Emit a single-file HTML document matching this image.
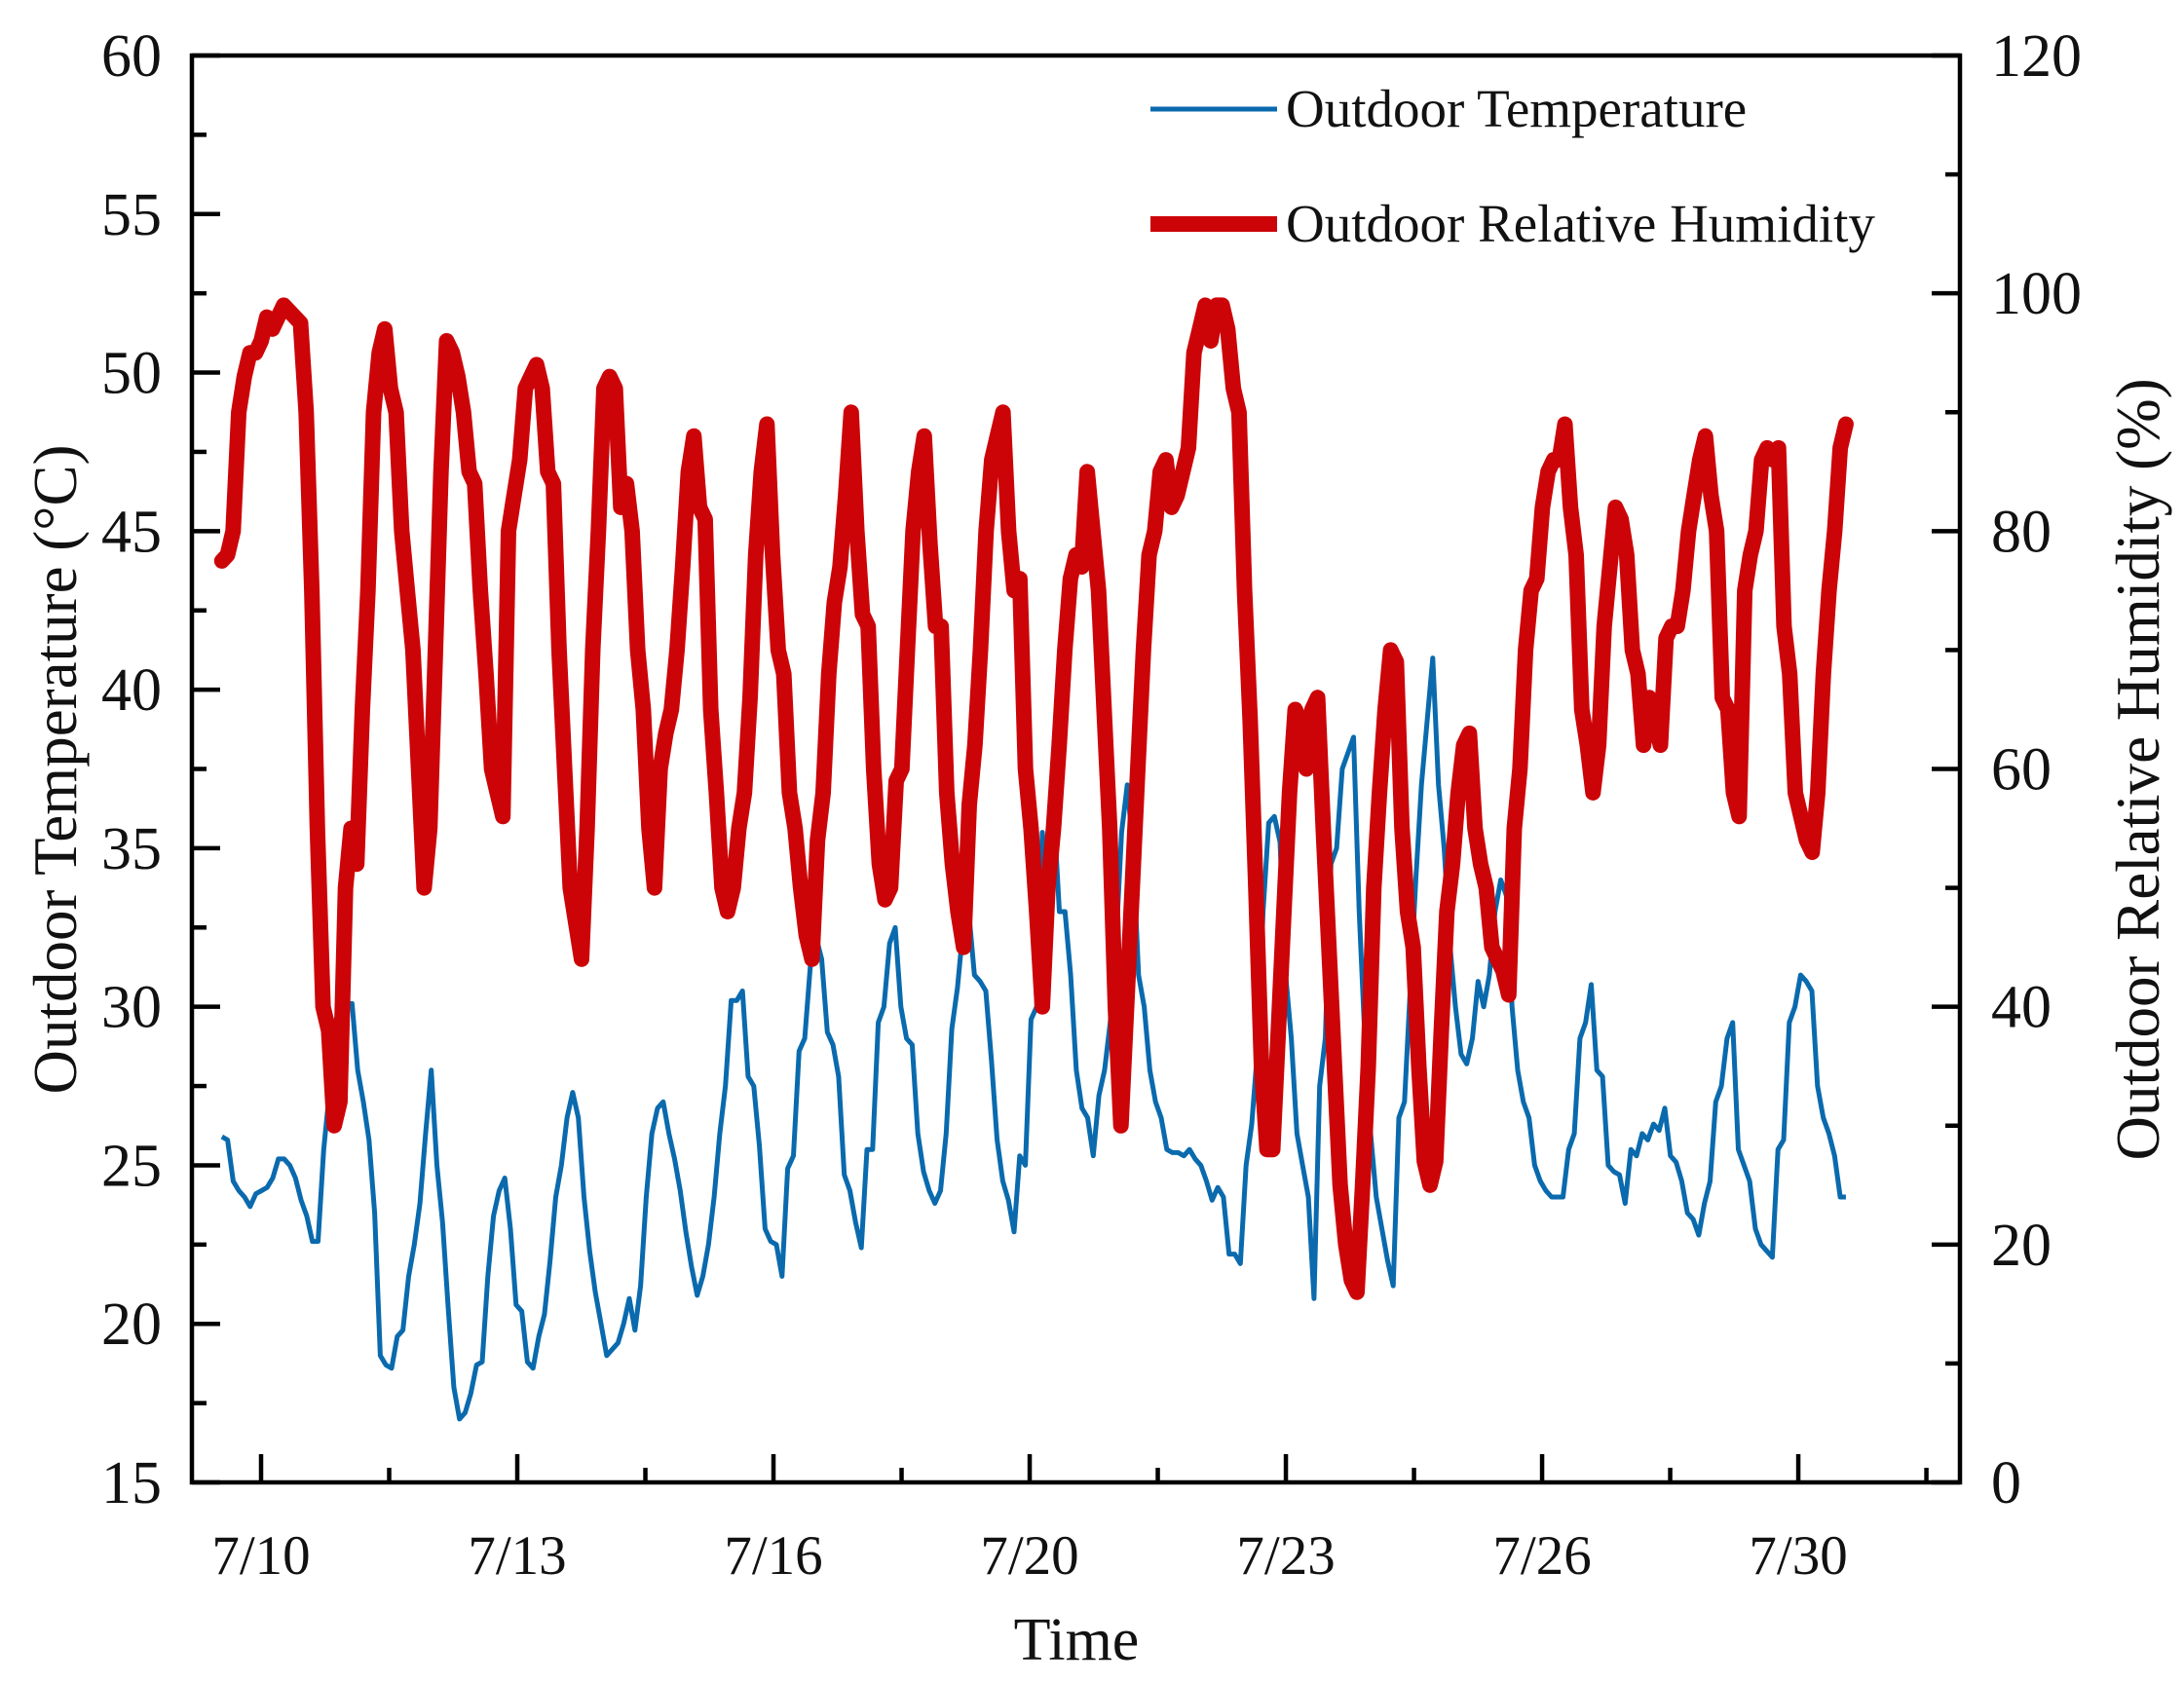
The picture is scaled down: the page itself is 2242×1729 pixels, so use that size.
<!DOCTYPE html>
<html><head><meta charset="utf-8">
<style>
html,body{margin:0;padding:0;background:#fff;}
svg{display:block;}
text{font-family:"Liberation Serif",serif;fill:#111;}
</style></head>
<body>
<svg id="chart" width="2242" height="1729" viewBox="0 0 2242 1729" xmlns="http://www.w3.org/2000/svg">
<g id="axes"></g>
<g id="series"></g>
<g id="legend"></g>
</svg>
<script>
// ---- data ----
const xTickLabels = ["7/10","7/13","7/16","7/20","7/23","7/26","7/30"];
const xTickDays = [0,3,6,9,12,15,18];
const leftTicks = [15,20,25,30,35,40,45,50,55,60];
const rightTicks = [0,20,40,60,80,100,120];
const tStartDay = -0.459;
const tEndDay = 18.557;
const temperature = [25.9,25.8,24.5,24.2,24.0,23.7,24.1,24.2,24.3,24.6,25.2,25.2,25.0,24.6,23.9,23.4,22.6,22.6,25.5,27.3,29.5,30.0,30.1,30.1,28.0,27.0,25.8,23.5,19.0,18.7,18.6,19.6,19.8,21.5,22.5,23.8,26.0,28.0,25.0,23.2,20.5,18.0,17.0,17.2,17.8,18.7,18.8,21.5,23.4,24.2,24.6,23.0,20.6,20.4,18.8,18.6,19.6,20.3,22.0,24.0,25.0,26.5,27.3,26.5,24.0,22.3,21.0,20.0,19.0,19.2,19.4,20.0,20.8,19.8,21.2,24.0,26.0,26.8,27.0,26.0,25.2,24.2,22.9,21.8,20.9,21.5,22.5,24.0,26.0,27.5,30.2,
30.2,30.5,27.8,27.5,25.6,23.0,22.6,22.5,21.5,24.9,25.3,28.6,29.0,31.3,32.2,31.5,29.2,28.8,27.8,24.7,24.2,23.2,22.4,25.5,25.5,29.5,30.0,32.0,32.5,30.0,29.0,28.8,26.0,24.8,24.2,23.8,24.2,26.0,29.3,30.6,32.5,33.0,31.0,30.8,30.5,28.3,25.8,24.5,23.9,22.9,25.3,25.0,29.6,30.0,35.5,33.5,36.2,33.0,33.0,31.0,28.0,26.8,26.5,25.3,27.2,28.0,29.5,32.0,35.5,37.0,35.0,31.0,30.0,28.0,27.0,26.5,25.5,25.4,25.4,25.3,25.5,25.2,25.0,24.5,23.9,24.3,24.0,22.2,22.2,21.9,25.0,26.3,28.6,33.0,35.8,36.0,35.2,31.0,29.0,26.0,25.0,24.0,20.8,27.5,29.0,34.5,35.0,37.5,38.0,38.5,33.0,29.0,26.0,24.0,23.0,22.0,21.2,26.5,27.0,30.5,34.0,37.0,39.0,41.0,37.0,35.0,32.0,30.0,28.5,28.2,29.0,30.8,30.0,31.0,33.0,34.0,33.5,30.0,28.0,27.0,26.5,25.0,24.5,24.2,24.0,24.0,24.0,25.5,26.0,29.0,29.5,30.7,28.0,27.8,25.0,24.8,24.7,23.8,25.5,25.3,26.0,25.8,26.3,26.1,26.8,25.3,25.1,24.5,23.5,23.3,22.8,23.8,24.5,27.0,27.5,29.0,29.5,25.5,25.0,24.5,23.0,22.5,22.3,22.1,25.5,25.8,29.5,30.0,31.0,30.8,30.5,27.5,26.5,26.0,25.3,24.0,24.0];
const humidity = [77.5,78,80,90,93,95,95,96,98,97,98,99,98.5,98,97.5,90,75,55,40,38,30,32,50,55,52,65,75,90,95,97,92,90,80,75,70,60,50,55,70,85,96,95,93,90,85,84,75,68,60,58,56,80,83,86,92,93,94,92,85,84,70,60,50,47,44,55,70,80,92,93,92,82,84,80,70,65,55,50,60,63,65,70,77,85,88,82,81,65,58,50,48,50,55,58,66,78,85,89,78,70,68,58,55,50,46,44,54,58,68,74,77,83,90,80,73,72,60,52,49,50,59,60,70,80,85,88,79,72,72,58,52,48,45,57,62,70,80,86,88,90,80,75,76,60,55,48,40,50,55,62,70,76,78,77,85,80,75,65,55,40,30,40,50,60,70,78,80,85,86,82,83,85,87,95,97,99,96,99,99,97,92,90,75,64,50,35,28,28,38,48,58,65,64,60,65,66,55,45,35,25,20,17,16,25,35,50,58,65,70,69,55,48,45,35,27,25,27,38,48,52,58,62,63,55,52,50,45,44,43,41,55,60,70,75,76,82,85,86,86,89,82,78,65,62,58,62,72,77,82,81,78,70,68,62,66,64,62,71,72,72,75,80,83,86,88,83,80,66,65,58,56,75,78,80,86,87,86,87,72,68,58,56,54,53,58,68,75,80,87,89];

// ---- layout ----
const L=197,R=2012,T=57,B=1522;
const X0=268, DAY=87.67;
const xS=d=>X0+d*DAY;
const yT=v=>B-(v-15)/45*(B-T);
const yH=v=>B-v/120*(B-T);
const NS="http://www.w3.org/2000/svg";
function mk(tag,attrs,parent,txt){const e=document.createElementNS(NS,tag);for(const k in attrs)e.setAttribute(k,attrs[k]);if(txt!==undefined)e.textContent=txt;parent.appendChild(e);return e;}
const axes=document.getElementById('axes'),series=document.getElementById('series'),legend=document.getElementById('legend');

function path(arr,yf){const n=arr.length;const st=(tEndDay-tStartDay)/(n-1);return arr.map((v,i)=>(i?'L':'M')+xS(tStartDay+i*st).toFixed(1)+' '+yf(v).toFixed(1)).join(' ');}
let p=mk('path',{d:path(temperature,yT),fill:'none',stroke:'#0a6aad','stroke-width':5,'stroke-linejoin':'round'},series);


p=mk('path',{d:path(humidity,yH),fill:'none',stroke:'#cc0408','stroke-width':16,'stroke-linejoin':'round','stroke-linecap':'round'},series);



let fr=mk('rect',{x:L,y:T,width:R-L,height:B-T,fill:'none',stroke:'#000','stroke-width':4.5},axes);



leftTicks.forEach(v=>{const y=yT(v);
 mk('line',{x1:L,x2:L+29,y1:y,y2:y,stroke:'#000','stroke-width':4.5},axes);
 if(v<60) mk('line',{x1:L,x2:L+15,y1:yT(v+2.5),y2:yT(v+2.5),stroke:'#000','stroke-width':4.5},axes);
 const t=mk('text',{x:166,y:y+21,'text-anchor':'end','font-size':62},axes,String(v));
 
 
});
rightTicks.forEach(v=>{const y=yH(v);
 mk('line',{x1:R,x2:R-29,y1:y,y2:y,stroke:'#000','stroke-width':4.5},axes);
 if(v<120) mk('line',{x1:R,x2:R-15,y1:yH(v+10),y2:yH(v+10),stroke:'#000','stroke-width':4.5},axes);
 const t=mk('text',{x:2044,y:y+21,'text-anchor':'start','font-size':62},axes,String(v));
 
 
});
xTickDays.forEach((d,i)=>{const x=xS(d);
 mk('line',{x1:x,x2:x,y1:B,y2:B-29,stroke:'#000','stroke-width':4.5},axes);
 mk('line',{x1:xS(d+1.5),x2:xS(d+1.5),y1:B,y2:B-15,stroke:'#000','stroke-width':4.5},axes);
 const t=mk('text',{x:x,y:1616,'text-anchor':'middle','font-size':57},axes,xTickLabels[i]);
 
 
});
let t=mk('text',{x:1105,y:1704,'text-anchor':'middle','font-size':62},axes,'Time');


t=mk('text',{x:0,y:0,'text-anchor':'middle','font-size':63,transform:'translate(78,790) rotate(-90)'},axes,'Outdoor Temperature (°C)');


t=mk('text',{x:0,y:0,'text-anchor':'middle','font-size':63,transform:'translate(2216,790) rotate(-90)'},axes,'Outdoor Relative Humidity (%)');



let l=mk('line',{x1:1181,x2:1311,y1:112,y2:112,stroke:'#0a6aad','stroke-width':5},legend);


t=mk('text',{x:1320,y:130,'font-size':55},legend,'Outdoor Temperature');


l=mk('line',{x1:1181,x2:1311,y1:230,y2:230,stroke:'#cc0408','stroke-width':16},legend);


t=mk('text',{x:1320,y:248,'font-size':55},legend,'Outdoor Relative Humidity');


</script>
</body></html>
